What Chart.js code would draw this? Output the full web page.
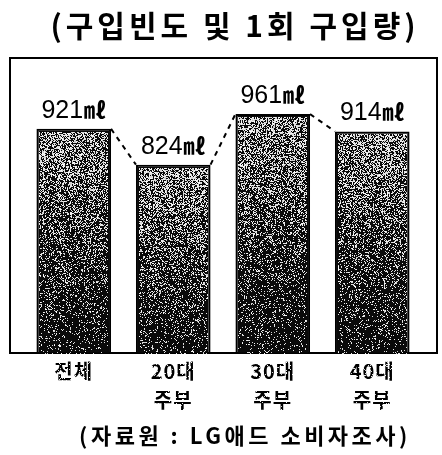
<!DOCTYPE html>
<html>
<head>
<meta charset="utf-8">
<script src="https://cdn.jsdelivr.net/npm/chart.js@4/dist/chart.umd.min.js"></script>
<style>
  html, body { margin: 0; padding: 0; background: #fff; }
  #wrap { width: 442px; height: 455px; }
</style>
</head>
<body>
<div id="wrap"><canvas id="c" width="442" height="455"></canvas></div>
<script>
// Purchase volume per purchase, by group
const titleText = '(구입빈도 및 1회 구입량)';
const sourceText = '(자료원 : LG애드 소비자조사)';
const categories = [['전체'], ['20대', '주부'], ['30대', '주부'], ['40대', '주부']];
const volumes = [921, 824, 961, 914];
const unitLabel = '㎖';
const axisMin = 315;
const axisMax = 1113;

const KR = '"Noto Sans CJK KR", "Noto Sans", sans-serif';

// deterministic integer hash for the halftone-like bar texture
function hash(x, y) {
  let h = Math.imul(x ^ 0x9e3779b9, 0x85ebca6b) ^ Math.imul((y + 0x632be5ab) | 0, 0xc2b2ae35);
  h ^= h >>> 16;
  h = Math.imul(h, 0x7feb352d);
  h ^= h >>> 15;
  h = Math.imul(h, 0x846ca68b);
  h ^= h >>> 16;
  return (h >>> 0) / 4294967296;
}

const framePlugin = {
  id: 'frame',
  beforeDraw(chart) {
    // slightly wider glyph spacing for the category labels drawn by the x scale
    chart.ctx.letterSpacing = '1px';
  },
  beforeDatasetsDraw(chart) {
    const { ctx, chartArea: a } = chart;
    ctx.letterSpacing = '0px';
    ctx.save();
    ctx.strokeStyle = '#000';
    ctx.lineWidth = 2;
    const l = Math.round(a.left) - 14, r = Math.round(a.right) + 15;
    const t = Math.round(a.top), b = Math.round(a.bottom);
    ctx.strokeRect(l, t, r - l, b - t);
    ctx.restore();
  }
};

const barDecorPlugin = {
  id: 'barDecor',
  afterDatasetsDraw(chart) {
    const { ctx } = chart;
    const bars = chart.getDatasetMeta(0).data;
    // speckled texture inside each bar, lighter towards the top
    bars.forEach((bar, bi) => {
      const left = Math.round(bar.x - bar.width / 2) + 3;
      const right = Math.round(bar.x + bar.width / 2) - 3;
      const top = Math.round(bar.y) + 3;
      const bottom = Math.round(bar.base) - 2;
      const w = right - left, h = bottom - top;
      if (w <= 0 || h <= 0) return;
      const img = ctx.getImageData(left, top, w, h);
      const d = img.data;
      for (let yy = 0; yy < h; yy++) {
        const t = yy / h;
        const p = 0.5 * Math.pow(1 - t, 1.8) + 0.025;
        for (let xx = 0; xx < w; xx++) {
          const streak = hash(xx + bi * 97, 7) < 0.1 ? 0.15 * (1 - t) : 0;
          if (hash(xx + bi * 131, yy + bi * 577) < p + streak) {
            const v = 200 + Math.floor(hash(yy + 11, xx + 3) * 55);
            const k = (yy * w + xx) * 4;
            d[k] = d[k + 1] = d[k + 2] = v;
          }
        }
      }
      ctx.putImageData(img, left, top);
    });

    // dashed connectors between neighbouring bar tops
    ctx.save();
    ctx.strokeStyle = '#000';
    ctx.lineWidth = 2;
    ctx.setLineDash([5, 5]);
    for (let i = 0; i < bars.length - 1; i++) {
      const a = bars[i], b = bars[i + 1];
      ctx.beginPath();
      ctx.moveTo(a.x + a.width / 2, a.y);
      ctx.lineTo(b.x - b.width / 2, b.y);
      ctx.stroke();
    }
    ctx.restore();

    // value labels above the bars
    ctx.save();
    ctx.fillStyle = '#000';
    ctx.textBaseline = 'alphabetic';
    ctx.textAlign = 'left';
    const numFont = '25px "Liberation Sans", sans-serif';
    const unitFont = 'bold 22px ' + KR;
    bars.forEach((bar, i) => {
      const num = String(volumes[i]);
      ctx.font = numFont;
      const wn = ctx.measureText(num).width;
      ctx.font = unitFont;
      const wu = ctx.measureText(unitLabel).width;
      const gap = 1;
      const x0 = bar.x - (wn + gap + wu) / 2;
      const y0 = bar.y - 11;
      ctx.font = numFont;
      ctx.fillText(num, x0, y0);
      ctx.font = unitFont;
      ctx.fillText(unitLabel, x0 + wn + gap, y0);
    });
    ctx.restore();
  },
  afterDraw(chart) {
    const { ctx } = chart;
    ctx.save();
    ctx.fillStyle = '#000';
    ctx.textAlign = 'center';
    ctx.textBaseline = 'middle';
    ctx.font = 'bold 30px ' + KR;
    ctx.letterSpacing = '4px';
    ctx.fillText(titleText, 235, 26);
    ctx.font = 'bold 22px ' + KR;
    ctx.letterSpacing = '3.5px';
    ctx.fillText(sourceText, 245, 436);
    ctx.restore();
  }
};

new Chart(document.getElementById('c'), {
  type: 'bar',
  data: {
    labels: categories,
    datasets: [{
      data: volumes,
      backgroundColor: '#0a0a0a',
      borderColor: '#000',
      borderWidth: 2,
      barPercentage: 0.75,
      categoryPercentage: 1
    }]
  },
  options: {
    responsive: false,
    animation: false,
    layout: { padding: { top: 58, left: 24, right: 20, bottom: 35.7 } },
    plugins: {
      legend: { display: false },
      tooltip: { enabled: false },
      title: { display: false }
    },
    scales: {
      x: {
        grid: { display: false, drawTicks: false },
        border: { display: false },
        ticks: {
          color: '#000',
          padding: 5,
          maxRotation: 0,
          autoSkip: false,
          font: { family: KR, size: 20, weight: 'bold', lineHeight: 1.42 }
        }
      },
      y: {
        display: false,
        min: axisMin,
        max: axisMax
      }
    }
  },
  plugins: [framePlugin, barDecorPlugin]
});
</script>
</body>
</html>
